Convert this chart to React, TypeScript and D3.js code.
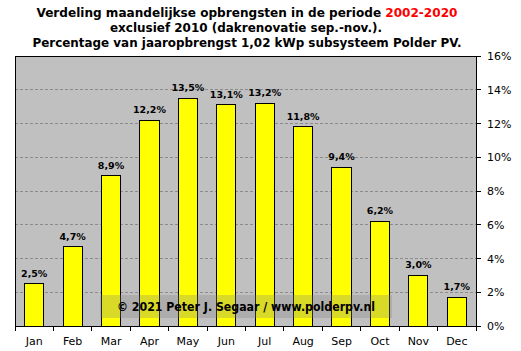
import React from "react";
import * as d3 from "d3";

const months = ["Jan", "Feb", "Mar", "Apr", "May", "Jun", "Jul", "Aug", "Sep", "Oct", "Nov", "Dec"];
const shares = [2.5, 4.7, 8.9, 12.2, 13.5, 13.1, 13.2, 11.8, 9.4, 6.2, 3.0, 1.7];
const yTicks = [0, 2, 4, 6, 8, 10, 12, 14, 16];
const titleLine1a = "Verdeling maandelijkse opbrengsten in de periode ";
const titleLine1b = "2002-2020";
const titleLine2 = "exclusief 2010 (dakrenovatie sep.-nov.).";
const titleLine3 = "Percentage van jaaropbrengst 1,02 kWp subsysteem Polder PV.";
const watermark = "© 2021 Peter J. Segaar / www.polderpv.nl";

const W = 521, H = 351;
const L = 15, R = 476, T = 56, B = 326;
const font = "'DejaVu Sans', Verdana, sans-serif";

export default function App() {
  const x = d3.scaleBand<string>().domain(months).range([L, R]).paddingInner(0.5).paddingOuter(0.25);
  const xb = d3.scaleBand<string>().domain(months).range([L, R]);
  const y = d3.scaleLinear().domain([0, 16]).range([B, T]);
  const fmt = (v: number) => v.toFixed(1).replace(".", ",") + "%";
  return (
    <svg width={W} height={H} style={{ position: "absolute", left: 0, top: 0, background: "#fff" }}>
      <rect x={0} y={0} width={W} height={H} fill="#fff" />
      <g fontFamily={font} fontWeight="bold" fontSize={12.5} textAnchor="middle" fill="#000">
        <text x={247} y={17} textLength={421} lengthAdjust="spacingAndGlyphs">
          {titleLine1a}<tspan fill="#ff0000">{titleLine1b}</tspan>
        </text>
        <text x={246} y={32} textLength={272} lengthAdjust="spacingAndGlyphs">{titleLine2}</text>
        <text x={247} y={47} textLength={429} lengthAdjust="spacingAndGlyphs">{titleLine3}</text>
      </g>
      <rect x={L} y={T} width={R - L} height={B - T} fill="#c0c0c0" />
      {yTicks.slice(1, -1).map((t) => (
        <line key={t} x1={L} x2={R} y1={y(t)} y2={y(t)} stroke="#8c8c8c" strokeDasharray="3,2" strokeWidth={1} shapeRendering="crispEdges" />
      ))}
      {months.map((m, i) => (
        <rect key={m} x={x(m)!} y={y(shares[i])} width={x.bandwidth()} height={B - y(shares[i])} fill="#ffff00" stroke="#000" strokeWidth={1} shapeRendering="crispEdges" />
      ))}
      {months.map((m, i) => (
        <text key={m} x={x(m)! + x.bandwidth() / 2} y={y(shares[i]) - 7} textAnchor="middle" fontFamily={font} fontWeight="bold" fontSize={9.5} fill="#000">
          {fmt(shares[i])}
        </text>
      ))}
      <rect x={L} y={T} width={R - L} height={B - T} fill="none" stroke="#000" strokeWidth={1} shapeRendering="crispEdges" />
      {months.map((m) => (
        <line key={m} x1={xb(m)!} x2={xb(m)!} y1={B} y2={B + 5} stroke="#000" shapeRendering="crispEdges" />
      ))}
      <line x1={R} x2={R} y1={B} y2={B + 5} stroke="#000" shapeRendering="crispEdges" />
      {months.map((m) => (
        <text key={m} x={xb(m)! + xb.bandwidth() / 2} y={345} textAnchor="middle" fontFamily={font} fontSize={11} fill="#000">{m}</text>
      ))}
      {yTicks.map((t) => (
        <g key={t}>
          <line x1={R} x2={R + 5} y1={y(t)} y2={y(t)} stroke="#000" shapeRendering="crispEdges" />
          <text x={487} y={y(t) + 4} fontFamily={font} fontSize={11} fill="#000">{t + "%"}</text>
        </g>
      ))}
      <rect x={100} y={295} width={292} height={23} fill="#808080" fillOpacity={0.3} />
      <text x={246} y={311} textAnchor="middle" fontFamily={font} fontWeight="bold" fontSize={11.5} fill="#000" textLength={258} lengthAdjust="spacingAndGlyphs">{watermark}</text>
    </svg>
  );
}
